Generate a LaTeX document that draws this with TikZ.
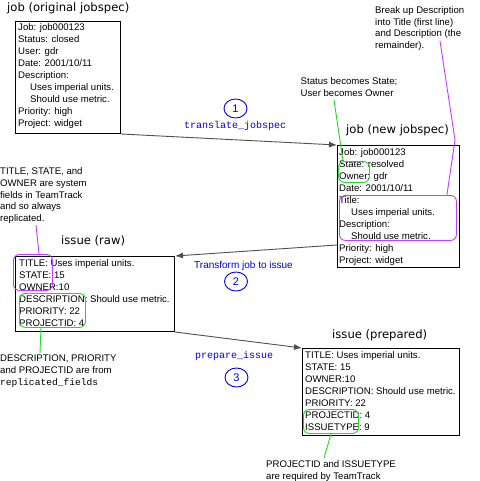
\documentclass[tikz,border=0pt]{standalone}
\usepackage{fontspec}
\setmainfont{Liberation Sans}
\setmonofont{Liberation Mono}
\newfontfamily\ttlfont{DejaVu Sans}
\usetikzlibrary{arrows.meta,shapes.geometric,calc}
\definecolor{stepblue}{RGB}{0,0,235}
\definecolor{notegreen}{RGB}{40,215,40}
\definecolor{notemag}{RGB}{200,60,255}
\definecolor{flowgray}{RGB}{80,80,80}
\newcommand{\fstrut}{\rule{0pt}{9pt}}
\newcommand{\ind}{\hspace*{12pt}}
\begin{document}
\begin{tikzpicture}[x=1pt,y=-1pt,
  recbox/.style={draw=black,line width=1pt,rectangle,anchor=north west,inner sep=0pt},
  bodytext/.style={anchor=north west,inner sep=0pt,align=left,font=\fontsize{9.6}{12}\selectfont},
  ttl/.style={anchor=base west,inner sep=0pt,font=\ttlfont\fontsize{11.6}{14}\selectfont},
  note/.style={anchor=north west,inner sep=0pt,align=left,font=\fontsize{9.6}{11.9}\selectfont},
  steplabel/.style={anchor=base west,inner sep=0pt,text=stepblue,font=\ttfamily\fontsize{10}{12}\selectfont},
  steptext/.style={anchor=base west,inner sep=0pt,text=stepblue,font=\fontsize{10}{12}\selectfont},
  stepnum/.style={ellipse,draw=stepblue,line width=0.9pt,minimum width=23pt,minimum height=19pt,inner sep=0pt,text=stepblue,font=\fontsize{11}{13}\selectfont},
  flow/.style={draw=flowgray,line width=0.9pt,-{Latex[length=8pt,width=6pt]}},
  greenmark/.style={draw=notegreen,line width=0.9pt,rounded corners=6pt,rectangle,anchor=north west,inner sep=0pt},
  magmark/.style={draw=notemag,line width=0.9pt,rounded corners=6pt,rectangle,anchor=north west,inner sep=0pt},
  greenline/.style={draw=notegreen,line width=0.9pt},
  magline/.style={draw=notemag,line width=0.9pt}
]
\path[fill=white] (0,0) rectangle (479,481);
\useasboundingbox (0,0) rectangle (479,481);

% titles
\node[ttl] (ttl1) at (7,12) {job (original jobspec)};
\node[ttl] (ttl2) at (346,134) {job (new jobspec)};
\node[ttl] (ttl3) at (61,244.5) {issue (raw)};
\node[ttl] (ttl4) at (332,338) {issue (prepared)};

% boxes
\node[recbox,minimum width=105pt,minimum height=112pt] (b1) at (15,21) {};
\node[recbox,minimum width=122pt,minimum height=122pt] (b2) at (337,145) {};
\node[recbox,minimum width=159pt,minimum height=75pt] (b3) at (15,256) {};
\node[recbox,minimum width=157pt,minimum height=87pt] (b4) at (302,348) {};

\node[bodytext] (t1) at (18,21.5) {\fstrut Job: job000123\\Status: closed\\User: gdr\\Date: 2001/10/11\\Description:\\\ind Uses imperial units.\\\ind Should use metric.\\Priority: high\\Project: widget};
\node[bodytext] (t2) at (339,146) {\fstrut Job: job000123\\State: resolved\\Owner: gdr\\Date: 2001/10/11\\Title:\\\ind Uses imperial units.\\Description:\\\ind Should use metric.\\Priority: high\\Project: widget};
\node[bodytext] (t3) at (19,257) {\fstrut TITLE: Uses imperial units.\\STATE: 15\\OWNER:10\\DESCRIPTION: Should use metric.\\PRIORITY: 22\\PROJECTID: 4};
\node[bodytext] (t4) at (305,349) {\fstrut TITLE: Uses imperial units.\\STATE: 15\\OWNER:10\\DESCRIPTION: Should use metric.\\PRIORITY: 22\\PROJECTID: 4\\ISSUETYPE: 9};

% steps
\node[stepnum] (e1) at (235.5,108.5) {1};
\node[steplabel] (s1) at (184,129) {translate\_jobspec};
\node[steptext] (s2) at (194,268) {Transform job to issue};
\node[stepnum] (e2) at (236,281.5) {2};
\node[steplabel] (s3) at (195,358) {prepare\_issue};
\node[stepnum] (e3) at (236.5,377.5) {3};

\draw[flow] (b1.south east) -- (b2.north west);
\draw[flow] ($(b2.north west)+(0,100)$) -- (b3.north east);
\draw[flow] (b3.south east) -- (b4.north west);

% notes
\node[note] (n1) at (375,4) {\fstrut Break up Description\\into Title (first line)\\and Description (the\\remainder).};
\node[note] (n2) at (300.5,75) {\fstrut Status becomes State;\\User becomes Owner};
\node[note] (n3) at (0,165) {\fstrut TITLE, STATE, and\\OWNER are system\\fields in TeamTrack\\and so always\\replicated.};
\node[note] (n4) at (0,352) {\fstrut DESCRIPTION, PRIORITY\\and PROJECTID are from\\\texttt{replicated\_fields}};
\node[note] (n5) at (266,458) {\fstrut PROJECTID and ISSUETYPE\\are required by TeamTrack};

% marks
\node[greenmark,minimum width=31pt,minimum height=21pt] (g1) at (338,161) {};
\node[magmark,minimum width=117pt,minimum height=45pt] (m1) at (339,195) {};
\node[magmark,minimum width=39pt,minimum height=36pt] (m2) at (13,254) {};
\node[greenmark,minimum width=66pt,minimum height=34pt] (g2) at (19,293) {};
\node[greenmark,minimum width=55pt,minimum height=24pt] (g3) at (303,409) {};

\coordinate (gA) at (334,100);
\coordinate (mA) at (440,41);
\coordinate (mB) at (455,140);
\coordinate (mC) at (36,225);
\coordinate (gB) at (40,353);
\coordinate (gC) at (324,458);
\draw[greenline] (gA) -- ($(g1.north west)+(5,0)$);
\draw[magline] (mA) -- (mB) -- ($(m1.north east)+(-10,0)$);
\draw[magline] (mC) -- ($(m2.north west)+(26,0)$);
\draw[greenline] (gB) -- ($(g2.south west)+(22,0)$);
\draw[greenline] (gC) -- ($(g3.south west)+(28,0)$);
\end{tikzpicture}
\end{document}
